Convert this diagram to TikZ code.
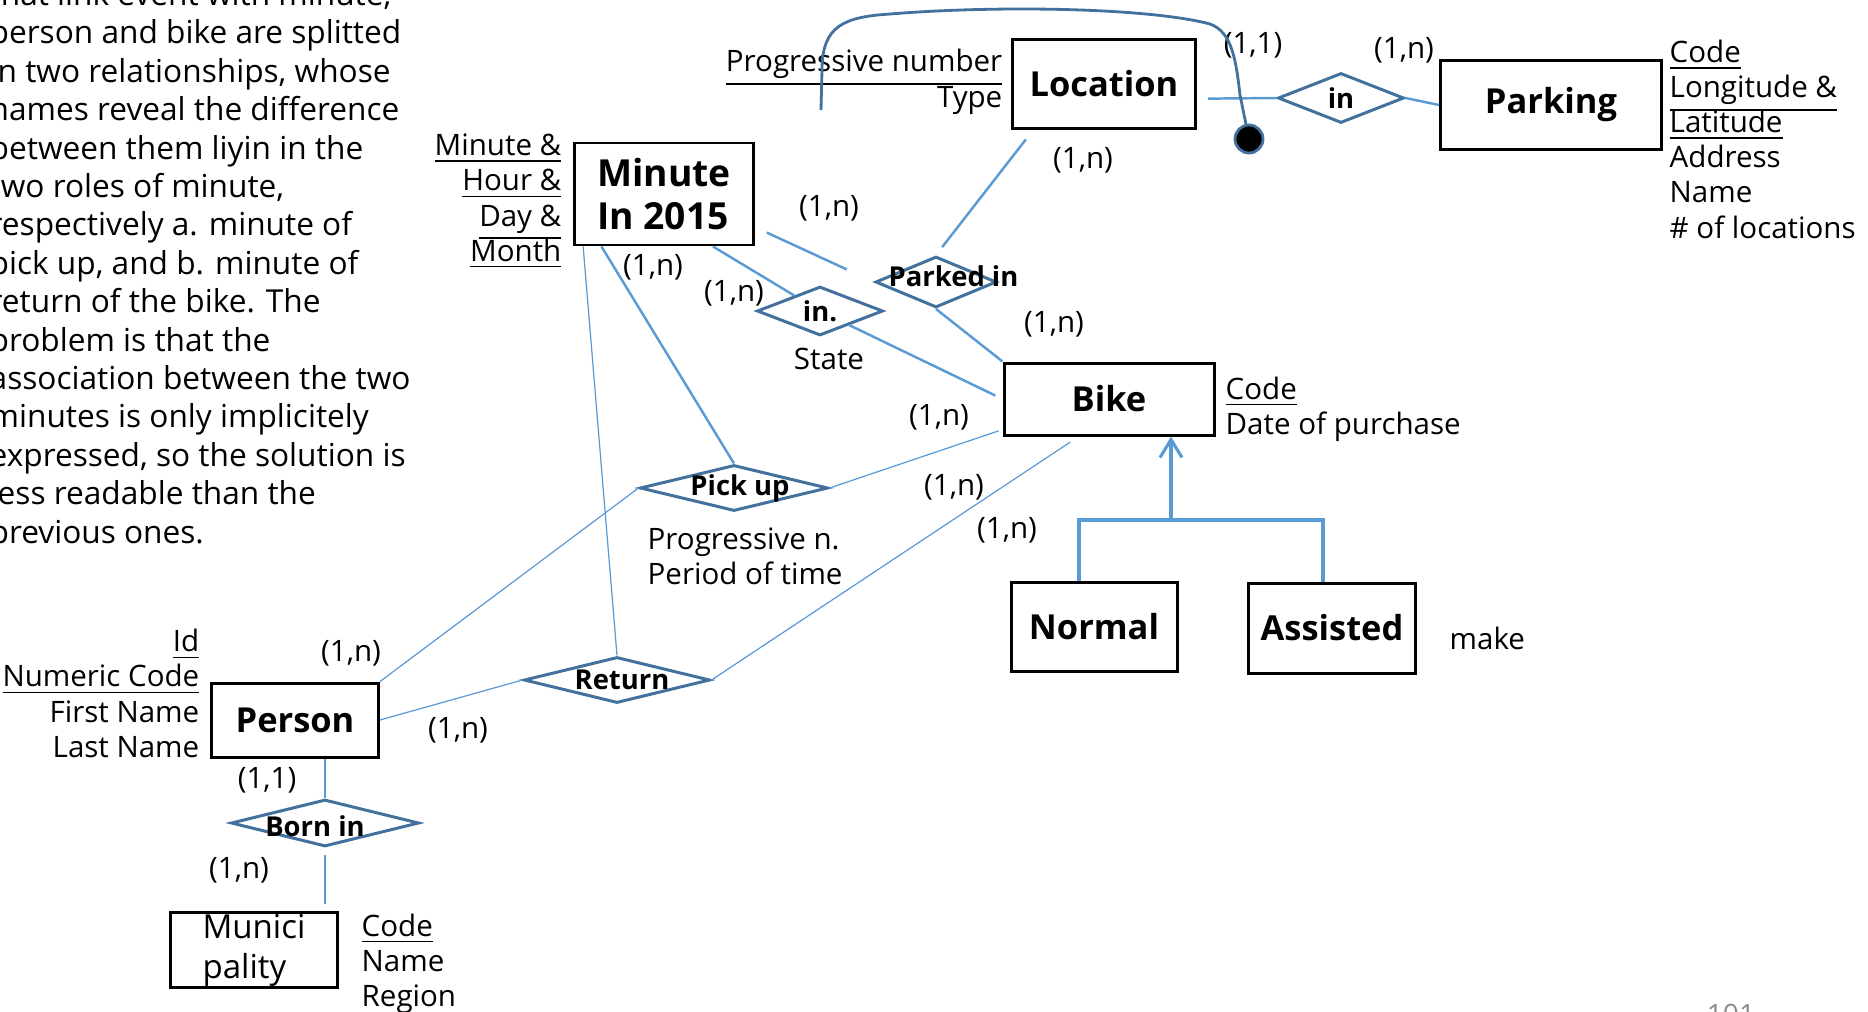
\documentclass[tikz,border=0pt]{standalone}
\usepackage{fontspec}
\setmainfont{Open Sans}
\usetikzlibrary{shapes.geometric,arrows.meta}

\definecolor{linkblue}{RGB}{91,155,213}
\definecolor{relblue}{RGB}{65,113,156}
\definecolor{pagegray}{RGB}{140,140,140}

% keep underlined lines at a fixed distance
\DeclareRobustCommand\tightlines{\lineskiplimit=-5pt\relax}

\tikzset{
  entity/.style={draw=black, line width=0.85pt, inner sep=0pt, font=\fontsize{9.8}{12}\selectfont\bfseries},
  relation/.style={diamond, draw=relblue, line width=0.85pt, inner sep=0pt},
  rellabel/.style={font=\fontsize{7.8}{9}\selectfont\bfseries, inner sep=0pt},
  attr/.style={font=\fontsize{8.4}{9.96}\selectfont\tightlines, inner sep=0pt},
  card/.style={font=\fontsize{8.4}{10}\selectfont, inner sep=0pt},
  note/.style={font=\fontsize{9}{10.9}\selectfont, inner sep=0pt, anchor=base west},
  link/.style={draw=linkblue, line width=0.7pt},
  thinlink/.style={draw=linkblue, line width=0.35pt},
  isa/.style={draw=linkblue, line width=0.9pt},
}

\begin{document}
\begin{tikzpicture}[x=0.1mm, y=-0.1mm]
    \useasboundingbox (0,0) rectangle (1868,1012);
    \clip (0,0) rectangle (1868,1012);

    % Explanation on the left
    \foreach \ln [count=\i from 0] in {{that link event with minute,},
        {person and bike are splitted}, {in two relationships, whose},
        {names reveal the difference}, {between them liyin in the},
        {two roles of minute,}, {respectively a. minute of},
        {pick up, and b. minute of}, {return of the bike. The},
        {problem is that the}, {association between the two},
        {minutes is only implicitely}, {expressed, so the solution is},
        {less readable than the}, {previous ones.}}
      \node [note] (note\i) at (-11, 5.5+38.4*\i) {\ln};

    % Entities
    \node [entity, minimum width=18.3mm, minimum height=8.9mm] (location) at (1104,84) {Location};
    \node [entity, minimum width=22.1mm, minimum height=8.9mm] (parking) at (1551,105) {Parking};
    \node [entity, minimum width=17.9mm, minimum height=10.2mm, align=left, font=\fontsize{10.6}{12.2}\selectfont\bfseries] (minute) at (664,194) {Minute\\In 2015};
    \node [entity, minimum width=21mm, minimum height=7.2mm] (bike) at (1109,399) {Bike};
    \node [entity, minimum width=16.6mm, minimum height=8.9mm] (normal) at (1094,627) {Normal};
    \node [entity, minimum width=16.7mm, minimum height=9mm] (assisted) at (1332,628) {Assisted};
    \node [entity, minimum width=16.7mm, minimum height=7.4mm] (person) at (295,720) {Person};
    \node [entity, minimum width=16.7mm, minimum height=7.5mm, align=left, font=\fontsize{9.4}{11.4}\selectfont] (munici) at (254,950) {Munici\\pality};

    % Relationships
    \node [relation, minimum width=12.6mm, minimum height=5mm, label={[rellabel]center:in}] (inpark) at (1341,98) {};
    \node [relation, minimum width=12.1mm, minimum height=5.1mm, label={[rellabel, xshift=1.75mm, yshift=0.6mm]center:Parked in}] (parked) at (936,282) {};
    \node [relation, minimum width=12.6mm, minimum height=4.9mm, label={[rellabel]center:in.}] (instate) at (820,311) {};
    \node [relation, minimum width=18.8mm, minimum height=4.6mm, label={[rellabel, xshift=0.6mm]center:Pick up}] (pickup) at (734,488) {};
    \node [relation, minimum width=18.6mm, minimum height=4.6mm, label={[rellabel, xshift=0.5mm]center:Return}] (return) at (617,680) {};
    \node [relation, minimum width=18.8mm, minimum height=4.7mm, label={[rellabel, xshift=-1mm, yshift=-0.35mm]center:Born in}] (bornin) at (325,823) {};

    % Attributes (placed by the baseline of their last line)
    \node [attr, align=right, anchor=base east] (minattr) at (562,261) {\underline{Minute \&}\\\underline{Hour \&}\\\underline{Day \&}\\\underline{Month}};
    \node [attr, align=right, anchor=base east] (locattr) at (1003,107) {\underline{Progressive number}\\Type};
    \node [attr, align=left, anchor=base west] (parkattr) at (1669,238) {\underline{Code}\\\underline{Longitude \&}\\\underline{Latitude}\\Address\\Name\\\# of locations};
    \node [attr, align=left, anchor=base west] (bikeattr) at (1225,434) {\underline{Code}\\Date of purchase};
    \node [attr, align=right, anchor=base east] (personattr) at (200,757) {\underline{Id}\\\underline{Numeric Code}\\First Name\\Last Name};
    \node [attr, align=left, anchor=base west] (muniattr) at (361,1006) {\underline{Code}\\Name\\Region};
    \node [attr, align=left, anchor=base west] (pickattr) at (647,584) {Progressive n.\\Period of time};
    \node [attr, anchor=base] (stateattr) at (829,369) {State};
    \node [attr, anchor=base west] (makeattr) at (1449,649) {make};

    % Cardinalities
    \node [card] (c1) at (1253,45) {(1,1)};
    \node [card] (c2) at (1404,50) {(1,n)};
    \node [card] (c3) at (1083,160) {(1,n)};
    \node [card] (c4) at (829,208) {(1,n)};
    \node [card] (c5) at (653,267) {(1,n)};
    \node [card] (c6) at (734,293) {(1,n)};
    \node [card] (c7) at (1054,324) {(1,n)};
    \node [card] (c8) at (939,417) {(1,n)};
    \node [card] (c9) at (954,487) {(1,n)};
    \node [card] (c10) at (1007,530) {(1,n)};
    \node [card] (c11) at (351,653) {(1,n)};
    \node [card] (c12) at (458,730) {(1,n)};
    \node [card] (c13) at (267,780) {(1,1)};
    \node [card] (c14) at (239,870) {(1,n)};

    % Connections
    \path [link, shorten <=1.2mm, shorten >=1mm] (location.-147) -- (parked.north);
    \path [link, shorten <=1.1mm] (location.-9) -- (inpark.west);
    \path [link] (inpark.east) -- (parking.west);
    \path [link, shorten <=1.3mm, shorten >=3mm] (minute.-20) -- (parked.west);
    \path [link] (minute.-47) -- (instate);
    \path [link, shorten >=0.8mm] (instate) -- (bike.west);
    \path [link] (parked.south) -- (bike.north west);
    \path [link] (minute.-140) -- (pickup.north);
    \path [thinlink] (minute.-147) -- (return.north);
    \path [thinlink, shorten >=0.4mm] (pickup.east) -- (bike.-164);
    \path [thinlink] (pickup.west) -- (person.north east);
    \path [thinlink] (person.east) -- (return.west);
    \path [thinlink, shorten >=1mm] (return.east) -- (bike.-129);
    \path [link] (bornin.north |- person.south) -- (bornin.north);
    \path [link, shorten <=0.7mm, shorten >=0.7mm] (bornin.south) -- (bornin.south |- munici.north);

    % Generalization of Bike
    \coordinate (gen) at (1171,520);
    \path [isa] ([xshift=-1.5mm]normal.north) |- (gen) -| ([xshift=-0.9mm]assisted.north);
    \path [isa, -{Straight Barb[length=1.8mm, width=2.2mm]}] (gen) -- (gen |- bike.south);

    % External identifier of Location
    \coordinate (idstart) at (821,110);
    \node [circle, fill=black, draw=relblue, line width=0.8pt, minimum size=2.8mm, inner sep=0pt] (iddot) at (1249,139) {};
    \path [draw=relblue, line width=0.8pt] (idstart) -- (822,70) .. controls (822,25) and (845,17) .. (890,14)
        .. controls (1000,5) and (1150,8) .. (1210,24) .. controls (1232,32) and (1236,60) .. (1240,95) -- (iddot);

    % Page number
    \node [font=\fontsize{8}{9}\selectfont, text=pagegray, anchor=north, inner sep=0pt] (pagenum) at (1731,1003) {101};
\end{tikzpicture}
\end{document}
